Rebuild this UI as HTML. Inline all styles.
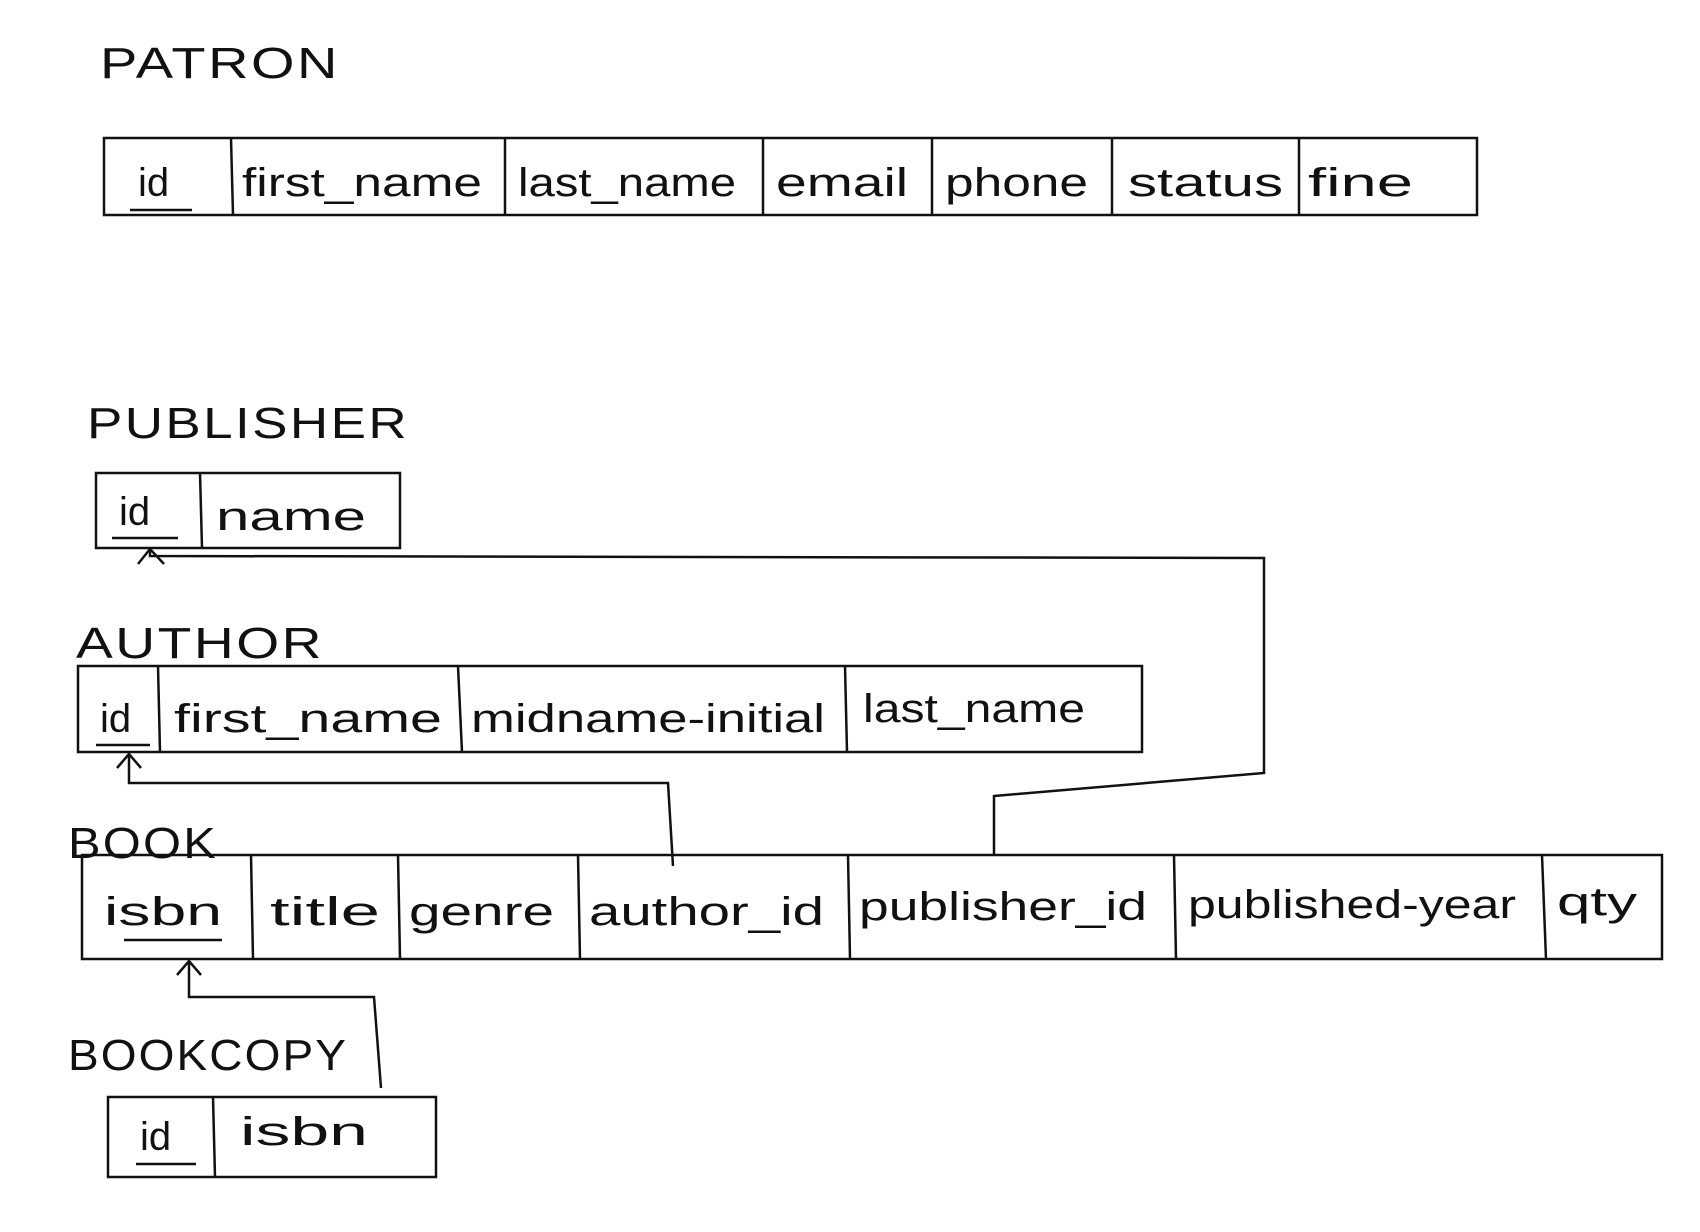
<!DOCTYPE html>
<html><head><meta charset="utf-8"><style>
html,body{margin:0;padding:0;background:#fff;}
svg{display:block;}
text{font-family:"Liberation Sans",sans-serif;fill:#111;}
.t{font-size:40px;}
.h{font-size:44px;letter-spacing:2px;}
line,polyline,rect{stroke:#111;stroke-width:2.5;fill:none;}
</style></head><body>
<svg width="1700" height="1232" viewBox="0 0 1700 1232">
<!-- PATRON -->
<text class="h" x="100" y="78" textLength="240" lengthAdjust="spacingAndGlyphs">PATRON</text>
<rect x="104" y="138" width="1373" height="77"/>
<line x1="231" y1="138" x2="233" y2="215"/><line x1="505" y1="138" x2="505" y2="215"/>
<line x1="763" y1="138" x2="763" y2="215"/><line x1="932" y1="138" x2="932" y2="215"/>
<line x1="1112" y1="138" x2="1112" y2="215"/><line x1="1299" y1="138" x2="1299" y2="215"/>
<text class="t" x="138" y="196">id</text>
<line x1="130" y1="210" x2="192" y2="210"/>
<text class="t" x="242" y="196" textLength="240" lengthAdjust="spacingAndGlyphs">first_name</text>
<text class="t" x="518" y="196" textLength="218" lengthAdjust="spacingAndGlyphs">last_name</text>
<text class="t" x="776" y="196" textLength="132" lengthAdjust="spacingAndGlyphs">email</text>
<text class="t" x="945" y="196" textLength="143" lengthAdjust="spacingAndGlyphs">phone</text>
<text class="t" x="1128" y="196" textLength="155" lengthAdjust="spacingAndGlyphs">status</text>
<text class="t" x="1308" y="196" textLength="105" lengthAdjust="spacingAndGlyphs">fine</text>
<!-- PUBLISHER -->
<text class="h" x="87" y="438" textLength="322" lengthAdjust="spacingAndGlyphs">PUBLISHER</text>
<rect x="96" y="473" width="304" height="75"/>
<line x1="200" y1="473" x2="202" y2="548"/>
<text class="t" x="119" y="525">id</text>
<line x1="112" y1="538" x2="178" y2="538"/>
<text class="t" x="216" y="530" textLength="150" lengthAdjust="spacingAndGlyphs">name</text>
<!-- AUTHOR -->
<text class="h" x="76" y="658" textLength="248" lengthAdjust="spacingAndGlyphs">AUTHOR</text>
<rect x="78" y="666" width="1064" height="86"/>
<line x1="158" y1="666" x2="160" y2="752"/><line x1="458" y1="666" x2="462" y2="752"/><line x1="845" y1="666" x2="847" y2="752"/>
<text class="t" x="100" y="732">id</text>
<line x1="96" y1="745" x2="150" y2="745"/>
<text class="t" x="174" y="732" textLength="268" lengthAdjust="spacingAndGlyphs">first_name</text>
<text class="t" x="471" y="732" textLength="354" lengthAdjust="spacingAndGlyphs">midname-initial</text>
<text class="t" x="863" y="722" textLength="222" lengthAdjust="spacingAndGlyphs">last_name</text>
<!-- BOOK -->
<text class="h" x="68" y="858" textLength="150" lengthAdjust="spacingAndGlyphs">BOOK</text>
<rect x="82" y="855" width="1580" height="104"/>
<line x1="251" y1="855" x2="253" y2="959"/><line x1="398" y1="855" x2="400" y2="959"/>
<line x1="578" y1="855" x2="580" y2="959"/><line x1="848" y1="855" x2="850" y2="959"/>
<line x1="1174" y1="855" x2="1176" y2="959"/><line x1="1542" y1="855" x2="1546" y2="959"/>
<text class="t" x="104" y="925" textLength="118" lengthAdjust="spacingAndGlyphs">isbn</text>
<line x1="124" y1="940" x2="222" y2="940"/>
<text class="t" x="270" y="925" textLength="110" lengthAdjust="spacingAndGlyphs">title</text>
<text class="t" x="409" y="925" textLength="145" lengthAdjust="spacingAndGlyphs">genre</text>
<text class="t" x="589" y="925" textLength="235" lengthAdjust="spacingAndGlyphs">author_id</text>
<text class="t" x="859" y="920" textLength="288" lengthAdjust="spacingAndGlyphs">publisher_id</text>
<text class="t" x="1188" y="918" textLength="328" lengthAdjust="spacingAndGlyphs">published-year</text>
<text class="t" x="1557" y="915" textLength="80" lengthAdjust="spacingAndGlyphs">qty</text>
<!-- BOOKCOPY -->
<text class="h" x="68" y="1070" textLength="280" lengthAdjust="spacingAndGlyphs">BOOKCOPY</text>
<rect x="108" y="1097" width="328" height="80"/>
<line x1="213" y1="1097" x2="215" y2="1177"/>
<text class="t" x="140" y="1150">id</text>
<line x1="136" y1="1164" x2="196" y2="1164"/>
<text class="t" x="240" y="1145" textLength="128" lengthAdjust="spacingAndGlyphs">isbn</text>
<!-- connectors -->
<polyline points="994,855 994,796 1264,773 1264,558 150,556 150,550"/>
<polyline points="138,564 150,549 164,564"/>
<polyline points="673,866 668,783 129,783 129,754"/>
<polyline points="117,768 129,754 141,768"/>
<polyline points="381,1088 374,997 189,997 189,961"/>
<polyline points="177,975 189,961 201,975"/>
</svg>
</body></html>
